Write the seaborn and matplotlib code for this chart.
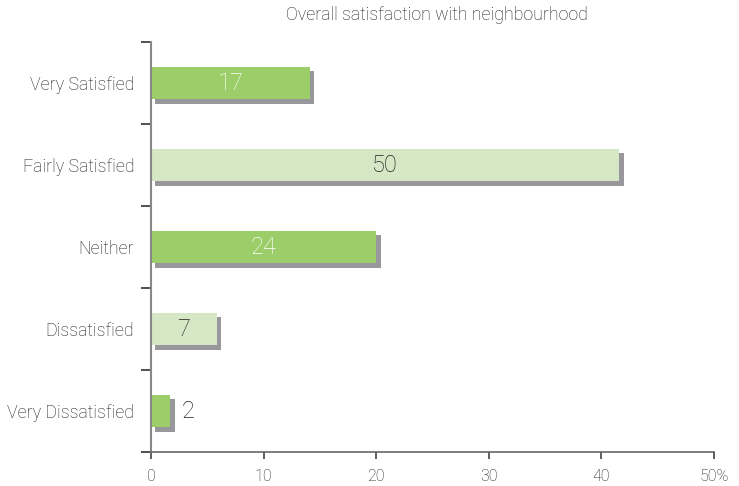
import matplotlib
matplotlib.use("Agg")
import matplotlib.pyplot as plt
import matplotlib.patheffects as pe
import seaborn as sns
import pandas as pd

categories = ["Very Satisfied", "Fairly Satisfied", "Neither", "Dissatisfied", "Very Dissatisfied"]
bar_lengths = [14.1, 41.6, 20.0, 5.85, 1.7]
value_labels = ["17", "50", "24", "7", "2"]
bar_colors = ["#9bcd68", "#d6e7c6", "#9bcd68", "#d6e7c6", "#9bcd68"]
label_colors = ["white", "#222222", "white", "#222222", "#222222"]
x_ticks = [0, 10, 20, 30, 40, 50]
x_tick_labels = ["0", "10", "20", "30", "40", "50%"]
title = "Overall satisfaction with neighbourhood"

sns.set_theme(style="white")
plt.rcParams["font.family"] = ["Roboto", "DejaVu Sans"]
FW = "light"
TXT = "#1e1e1e"

df = pd.DataFrame({"category": categories, "value": bar_lengths})

fig = plt.figure(figsize=(7.39, 4.86), dpi=100)
ax = fig.add_axes([151 / 739, 1 - 452 / 486, (714 - 151) / 739, (452 - 42) / 486])

sns.barplot(data=df, x="value", y="category", hue="category",
            palette=bar_colors, legend=False, width=0.4, ax=ax,
            saturation=1, edgecolor="none", linewidth=0)

shadow = [pe.SimplePatchShadow(offset=(3.2, -3.1), shadow_rgbFace="#98979c", alpha=1.0), pe.Normal()]
for p in ax.patches:
    p.set_path_effects(shadow)

for i, (v, lab, col) in enumerate(zip(bar_lengths, value_labels, label_colors)):
    if v < 3:
        ax.text(v + 1.05, i, lab, ha="left", va="center", fontsize=17, color=col, fontweight=FW)
    else:
        ax.text(v / 2, i, lab, ha="center", va="center", fontsize=17, color=col, fontweight=FW)

ax.set_xlim(0, 50)
ax.set_ylim(4.5, -0.5)
ax.set_xticks(x_ticks)
ax.set_xticklabels(x_tick_labels, fontsize=11.5, color=TXT, fontweight=FW)
ax.set_yticks(range(len(categories)))
ax.set_yticklabels(categories, fontsize=12.8, color=TXT, fontweight=FW)
ax.set_yticks([-0.5, 0.5, 1.5, 2.5, 3.5, 4.5], minor=True)
ax.tick_params(axis="y", which="major", left=True, length=0, pad=12)
ax.tick_params(axis="y", which="minor", left=True, length=7, width=1.2, color="#333333", direction="out")
ax.tick_params(axis="x", which="major", bottom=True, length=5, width=1.1, color="#333333", direction="out", pad=7)
ax.set_xlabel("")
ax.set_ylabel("")

for s in ["top", "right"]:
    ax.spines[s].set_visible(False)
ax.spines["left"].set_color("#888888")
ax.spines["left"].set_linewidth(1.5)
ax.spines["bottom"].set_color("#666666")
ax.spines["bottom"].set_linewidth(1.2)

fig.text(437 / 739, 1 - 15 / 486, title, ha="center", va="center", fontsize=12.8,
         color=TXT, fontweight=FW)

fig.savefig("out.png", dpi=100)
